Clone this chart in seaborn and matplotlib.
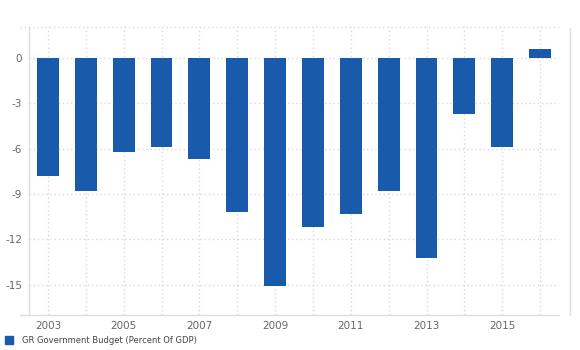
import matplotlib
matplotlib.use("Agg")
import matplotlib.pyplot as plt
import seaborn as sns
import pandas as pd
from matplotlib.lines import Line2D
from matplotlib.patches import Rectangle

years = list(range(2003, 2017))
budget = [-7.8, -8.8, -6.2, -5.9, -6.7, -10.2, -15.1, -11.2, -10.3, -8.8, -13.2, -3.7, -5.9, 0.6]
series_label = "GR Government Budget (Percent Of GDP)"
y_ticks = [0, -3, -6, -9, -12, -15]
x_ticks = [2003, 2005, 2007, 2009, 2011, 2013, 2015]

sns.set_theme(style="white")
plt.rcParams['font.family'] = ['DejaVu Sans']

bar_color = "#1a5aaa"
grid_color = "#d9d9d9"
text_color = "#666666"

df = pd.DataFrame({"year": years, "value": budget})

fig = plt.figure(figsize=(5.8, 3.5), dpi=100)
ax = fig.add_axes([29/580, 1-315/350, (559-29)/580, (315-27)/350])

sns.barplot(data=df, x="year", y="value", native_scale=True, color=bar_color,
            saturation=1, width=0.58, ax=ax, edgecolor="none")

ax.set_xlim(2002.5, 2016.5)
ax.set_ylim(-17, 2.05)
ax.set_yticks(y_ticks)
ax.set_yticklabels([str(v) for v in y_ticks])
ax.set_xticks(years, minor=True)
ax.set_xticks(x_ticks)
ax.set_xticklabels([str(v) for v in x_ticks])
ax.set_xlabel("")
ax.set_ylabel("")

dots = (0, (1, 2))
ax.grid(True, which="both", axis="x", color=grid_color, linestyle=dots, linewidth=1.0)
ax.grid(True, which="major", axis="y", color=grid_color, linestyle=dots, linewidth=1.0)
ax.set_axisbelow(True)

# top gridline extending slightly left of the axis
top_y = 1 - 27/350
fig.add_artist(Line2D([20/580, 559/580], [top_y, top_y], color=grid_color, linestyle=dots, linewidth=1.0))

for s in ["top", "right", "bottom"]:
    ax.spines[s].set_visible(False)
ax.spines["left"].set_color("#dddddd")
ax.spines["left"].set_linewidth(1.0)

# bottom axis line extending left of the y axis
bot_y = 1 - 315/350
fig.add_artist(Line2D([20/580, 559/580], [bot_y, bot_y], color="#dddddd", linewidth=1.0))

ax.tick_params(axis="both", which="both", length=0, labelsize=7.5, colors=text_color)
ax.tick_params(axis="y", pad=5)
ax.tick_params(axis="x", pad=4)

# extra right vertical line
fig.add_artist(Line2D([570/580, 570/580], [bot_y, 1-28/350], color="#dddddd", linewidth=1.0))

# legend
fig.add_artist(Rectangle((5/580, 1-343.5/350), 8/580, 8/350, color=bar_color, transform=fig.transFigure))
fig.text(22/580, 1-340.5/350, series_label, fontsize=6.0, color="#444444", va="center", ha="left")

fig.savefig("out.png", dpi=100, facecolor="white")
